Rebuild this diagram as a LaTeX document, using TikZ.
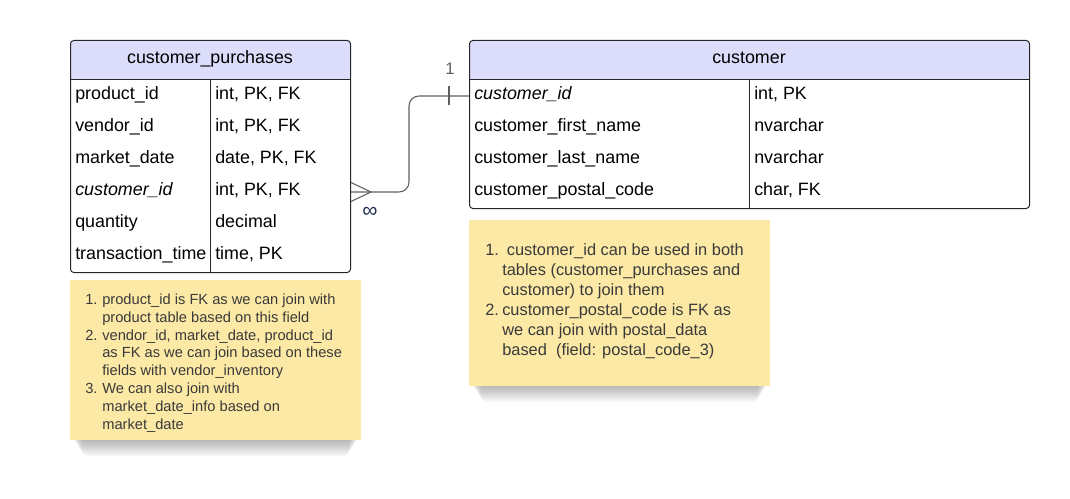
\documentclass[tikz,border=0pt]{standalone}
\usepackage{fontspec}
\setmainfont{Liberation Sans}
\usepackage{tikz}
\usetikzlibrary{arrows.meta}
\definecolor{headfill}{HTML}{DCDDFB}
\definecolor{notefill}{HTML}{FCE9A6}
\definecolor{linkgray}{HTML}{5F5F5F}
\definecolor{notegray}{HTML}{3A3A3A}
\definecolor{manyblue}{HTML}{1F3050}

\begin{document}
\begin{tikzpicture}[x=0.75pt, y=-0.75pt,
        tblframe/.style = {draw = black!85, line width = 0.75pt, rounded corners = 2.5pt, anchor = north west, inner sep = 0pt,
            path picture = {\fill[headfill, sharp corners] (path picture bounding box.north west) rectangle ([yshift = -30pt]path picture bounding box.north east);}},
        rule/.style = {draw = black!85, line width = 0.75pt},
        cell/.style = {font = {\fontsize{13.4}{16}\selectfont}, black, anchor = west, inner sep = 0pt, text height = 0.75em, text depth = 0.25em},
        headtext/.style = {cell, anchor = center},
        notebox/.style = {fill = notefill, anchor = north west, inner sep = 0pt},
        notelinesA/.style = {font = {\fontsize{11}{13.35}\selectfont}, text = notegray, anchor = north west, inner sep = 0pt},
        notelinesB/.style = {font = {\fontsize{12.3}{15}\selectfont}, text = notegray, anchor = north west, inner sep = 0pt},
        link/.style = {draw = linkgray, line width = 0.8pt}
    ]
        \useasboundingbox (0, 0) rectangle (1070, 499);

        % shadows under the notes
        \foreach \k in {1, ..., 10}
            \fill[black, opacity = 0.03, rounded corners = 4pt] (72 + \k, 430) rectangle (359 - \k, 440 + 1.6 * \k);
        \foreach \k in {1, ..., 10}
            \fill[black, opacity = 0.03, rounded corners = 4pt] (471 + \k, 375) rectangle (768 - \k, 386 + 1.6 * \k);

        % notes
        \node[notebox, minimum width = 218.25pt, minimum height = 119.6pt] (cpNote) at (70, 280) {};
        \node[notelinesA] (cpNoteText) at (85, 291.8) {\begin{tabular}{@{}r@{\hspace{3.6pt}}l@{}}
            1. & product\_id is FK as we can join with\\
               & product table based on this field\\
            2. & vendor\_id, market\_date, product\_id\\
               & as FK as we can join based on these\\
               & fields with vendor\_inventory\\
            3. & We can also join with\\
               & market\_date\_info based on\\
               & market\_date
        \end{tabular}};

        \node[notebox, minimum width = 225.75pt, minimum height = 124.1pt] (cuNote) at (469, 220) {};
        \node[notelinesB] (cuNoteText) at (485, 241.7) {\begin{tabular}{@{}r@{\hspace{2.5pt}}l@{}}
            1. & \hspace{3.4pt}customer\_id can be used in both\\
               & tables (customer\_purchases and\\
               & customer) to join them\\
            2. & customer\_postal\_code is FK as\\
               & we can join with postal\_data\\
               & based\ \ (field: postal\_code\_3)
        \end{tabular}};

        % customer_purchases
        \node[tblframe, minimum width = 210pt, minimum height = 174pt] (cpFrame) at (70, 40) {};
        \draw[rule] (70, 80) -- (350, 80);
        \draw[rule] (210, 80) -- (210, 272);
        \node[headtext] (cpHead) at (210, 60) {customer\_purchases};

        \node[cell] (cpN1) at (75, 96) {product\_id};
        \node[cell] (cpT1) at (215, 96) {int, PK, FK};
        \node[cell] (cpN2) at (75, 128) {vendor\_id};
        \node[cell] (cpT2) at (215, 128) {int, PK, FK};
        \node[cell] (cpN3) at (75, 160) {market\_date};
        \node[cell] (cpT3) at (215, 160) {date, PK, FK};
        \node[cell] (cpN4) at (75, 192) {\textit{customer\_id}};
        \node[cell] (cpT4) at (215, 192) {int, PK, FK};
        \node[cell] (cpN5) at (75, 224) {quantity};
        \node[cell] (cpT5) at (215, 224) {decimal};
        \node[cell] (cpN6) at (75, 256) {transaction\_time};
        \node[cell] (cpT6) at (215, 256) {time, PK};

        % customer
        \node[tblframe, minimum width = 420pt, minimum height = 126pt] (cuFrame) at (469, 40) {};
        \draw[rule] (469, 80) -- (1029, 80);
        \draw[rule] (749, 80) -- (749, 208);
        \node[headtext] (cuHead) at (749, 60) {customer};

        \node[cell] (cuN1) at (474, 96) {\textit{customer\_id}};
        \node[cell] (cuT1) at (754, 96) {int, PK};
        \node[cell] (cuN2) at (474, 128) {customer\_first\_name};
        \node[cell] (cuT2) at (754, 128) {nvarchar};
        \node[cell] (cuN3) at (474, 160) {customer\_last\_name};
        \node[cell] (cuT3) at (754, 160) {nvarchar};
        \node[cell] (cuN4) at (474, 192) {customer\_postal\_code};
        \node[cell] (cuT4) at (754, 192) {char, FK};

        % relation
        \coordinate (cpLink) at (cpFrame.east |- cpT4);
        \coordinate (cuLink) at (cuFrame.west |- cuN1);
        \draw[link, rounded corners = 7.5pt] (cpLink) -| (409, 96) -- (cuLink);
        \draw[link] (cpLink) ++(0, -9.5) -- ++(20, 9.5) -- ++(-20, 9.5);
        \draw[link] (cuLink) ++(-20, -10) -- ++(0, 19.5);
        \node[font = {\fontsize{12.5}{14}\selectfont}, linkgray] (oneLabel) at (450, 69) {1};
        \node[font = {\fontsize{16}{18}\selectfont}, manyblue] (manyLabel) at (370, 212) {∞};
    \end{tikzpicture}
\end{document}
